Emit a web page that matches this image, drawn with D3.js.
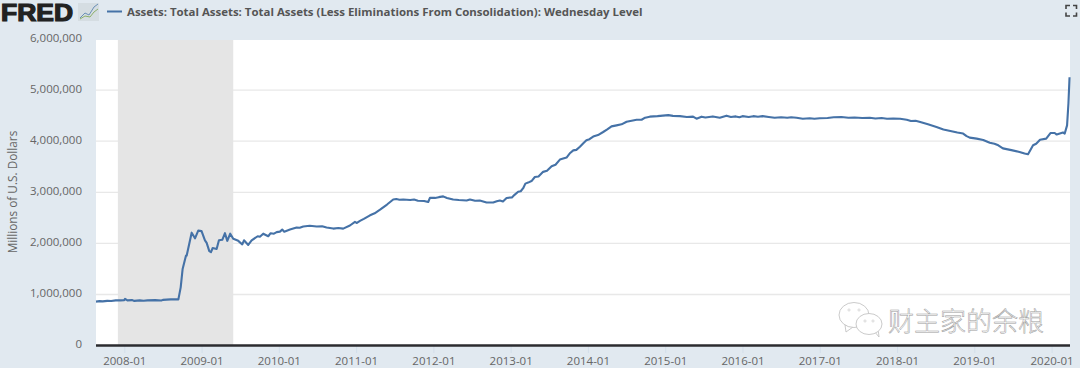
<!DOCTYPE html>
<html><head><meta charset="utf-8">
<script src="https://cdnjs.cloudflare.com/ajax/libs/d3/7.8.5/d3.min.js"></script>
<style>html,body{margin:0;padding:0;background:#e1e9f0}svg{display:block}text{font-family:"Open Sans",sans-serif}</style>
</head><body><svg id="c" width="1080" height="368"></svg>
<script>
const seriesTitle = "Assets: Total Assets: Total Assets (Less Eliminations From Consolidation): Wednesday Level";
const yAxisTitle = "Millions of U.S. Dollars";
const watermarkText = "财主家的余粮";
const yTicks = [0,1000000,2000000,3000000,4000000,5000000,6000000];
const xTicks = [2008,2009,2010,2011,2012,2013,2014,2015,2016,2017,2018,2019,2020];
const recession = [2007.917,2009.41];
const years = [
2007.634,2007.68,2007.72,2007.78,2007.83,2007.89,2007.95,2008,2008.01,2008.04,2008.1,2008.13,2008.2,2008.25,2008.3,2008.4,2008.48,2008.5,2008.6,2008.66,2008.7,2008.73,2008.755,2008.798,2008.807,2008.872,2008.915,2008.957,
2009,2009.044,2009.066,2009.1,2009.122,2009.144,2009.195,2009.225,2009.268,2009.303,2009.333,2009.371,2009.41,2009.475,2009.527,2009.549,2009.604,2009.648,2009.726,2009.755,2009.798,2009.863,2009.894,2009.937,2009.972,
2010.014,2010.044,2010.07,2010.144,2010.23,2010.27,2010.316,2010.4,2010.49,2010.56,2010.618,2010.704,2010.77,2010.833,2010.92,2010.985,
2011.01,2011.05,2011.1,2011.18,2011.24,2011.31,2011.4,2011.48,2011.52,2011.56,2011.61,2011.7,2011.75,2011.8,2011.88,2011.933,2011.955,
2012.02,2012.07,2012.127,2012.175,2012.256,2012.33,2012.43,2012.473,2012.54,2012.6,2012.688,2012.774,2012.82,2012.86,2012.9,2012.947,
2013.016,2013.05,2013.097,2013.13,2013.162,2013.19,2013.226,2013.27,2013.313,2013.36,2013.42,2013.47,2013.53,2013.58,2013.637,2013.723,2013.77,2013.81,2013.85,2013.896,2013.94,2013.98,
2014.02,2014.068,2014.13,2014.197,2014.25,2014.305,2014.37,2014.435,2014.5,2014.565,2014.63,2014.694,2014.74,2014.8,2014.9,
2015.04,2015.1,2015.19,2015.28,2015.36,2015.405,2015.47,2015.52,2015.616,2015.706,2015.793,2015.85,2015.913,2015.96,
2016,2016.08,2016.14,2016.2,2016.26,2016.34,2016.416,2016.5,2016.58,2016.63,2016.7,2016.78,2016.87,2016.93,
2017,2017.1,2017.18,2017.28,2017.37,2017.45,2017.55,2017.647,2017.72,2017.8,2017.87,2017.95,
2018.04,2018.125,2018.18,2018.24,2018.3,2018.4,2018.51,2018.6,2018.69,2018.78,2018.855,2018.9,2018.94,
2019.03,2019.115,2019.2,2019.26,2019.31,2019.37,2019.48,2019.585,2019.65,2019.695,2019.76,2019.8,2019.85,2019.93,2019.985,
2020.04,2020.066,2020.147,2020.17,2020.2,2020.218,2020.232];
const assets = [
860,870,865,875,872,885,885,890,915,885,890,875,885,878,885,890,882,895,905,905,905,1140,1500,1760,1760,2210,2100,2250,2240,
2060,2010,1850,1830,1910,1890,2060,2070,2200,2050,2190,2090,2050,1980,2060,1970,2060,2140,2130,2190,2140,2200,2190,2220,
2230,2270,2230,2270,2310,2305,2330,2345,2330,2335,2310,2290,2300,2290,2350,2420,
2400,2440,2480,2550,2590,2660,2760,2860,2870,2855,2860,2850,2860,2835,2830,2810,2890,
2890,2905,2920,2890,2860,2850,2840,2860,2835,2840,2800,2800,2825,2840,2820,2890,
2900,2950,3010,3020,3080,3170,3190,3220,3300,3310,3400,3420,3510,3540,3640,3680,3770,3820,3830,3890,3960,4020,
4040,4090,4120,4180,4230,4290,4310,4330,4380,4400,4420,4420,4460,4480,4490,
4510,4495,4490,4475,4480,4440,4480,4465,4485,4460,4500,4475,4485,4470,
4490,4475,4490,4480,4490,4475,4460,4470,4460,4470,4460,4440,4450,4440,
4450,4455,4470,4475,4460,4465,4455,4460,4445,4455,4440,4445,
4440,4420,4395,4400,4375,4330,4280,4230,4200,4170,4150,4100,4070,
4050,4025,3970,3950,3920,3860,3825,3790,3760,3745,3920,3950,4030,4050,4160,
4160,4130,4170,4150,4310,4745,5250];

const svg = d3.select("#c");
const x = d3.scaleLinear().domain([2007.634,2020.238]).range([96,1070]);
const y = d3.scaleLinear().domain([0,6000000]).range([345.6,39]);

svg.append("rect").attr("x",96).attr("y",40).attr("width",974).attr("height",305).attr("fill","#fff");

const yAxis = d3.axisLeft(y).tickValues(yTicks).tickFormat(d3.format(",")).tickSize(0).tickPadding(14);
const gy = svg.append("g").attr("transform","translate(96,0)").call(yAxis);
gy.select(".domain").remove();
gy.selectAll("text").attr("fill","#666").style("font-size","11.5px").attr("dy","0.2em");
svg.append("g").selectAll("line").data(yTicks.filter(d=>d>0&&d<6000000)).join("line")
  .attr("x1",96).attr("x2",1070).attr("y1",d=>y(d)).attr("y2",d=>y(d)).attr("stroke","#e8e8e8").attr("stroke-width",1.3);
svg.append("rect").attr("x",x(recession[0])).attr("y",40).attr("width",x(recession[1])-x(recession[0])).attr("height",305).attr("fill","#e5e5e5");

const xAxis = d3.axisBottom(x).tickValues(xTicks).tickFormat(d=>d+"-01").tickSize(8).tickPadding(4);
const gx = svg.append("g").attr("transform","translate(0,345)").call(xAxis);
gx.select(".domain").remove();
gx.selectAll("line").attr("stroke","#d3dfea");
gx.selectAll("text").attr("fill","#666").style("font-size","11.5px");
svg.append("line").attr("x1",96).attr("x2",1070).attr("y1",345.5).attr("y2",345.5).attr("stroke","#2b2b2f").attr("stroke-width",2.4);

svg.append("text").attr("transform","translate(17,192) rotate(-90)").attr("text-anchor","middle").attr("fill","#666").style("font-size","11.8px").text(yAxisTitle);

const line = d3.line().x((d,i)=>x(years[i])).y(d=>y(d*1000)).curve(d3.curveLinear);
svg.append("path").attr("d",line(assets)).attr("fill","none").attr("stroke","#4572a7").attr("stroke-width",2.1).attr("stroke-linejoin","round");

// header
svg.append("text").attr("x",1).attr("y",20.5).attr("fill","#222").style("font-family","'Liberation Sans',sans-serif").style("font-weight","700").style("font-size","23px").attr("stroke","#222").attr("stroke-width",1.2).attr("textLength",72).attr("lengthAdjust","spacingAndGlyphs").text("FRED");
svg.append("rect").attr("x",78).attr("y",3).attr("width",21).attr("height",18).attr("fill","#d5dde2");
const iconA=[[80,18],[85,13],[89,15],[94,7],[98,4]], iconB=[[80,19],[85,16],[90,17],[94,12],[98,9]];
svg.append("path").attr("d",d3.line()(iconA)).attr("fill","none").attr("stroke","#6a8fb5").attr("stroke-width",1);
svg.append("path").attr("d",d3.line()(iconB)).attr("fill","none").attr("stroke","#8db06a").attr("stroke-width",1);
svg.append("line").attr("x1",107).attr("x2",122).attr("y1",11.5).attr("y2",11.5).attr("stroke","#4572a7").attr("stroke-width",2);
svg.append("text").attr("x",127).attr("y",15.5).attr("fill","#555").style("font-weight","700").style("font-size","11.45px").text(seriesTitle);

// expand icon
svg.append("path").attr("d","M1066 9V5.500H1070M1073 5.500H1076.500V9M1076.500 12.500V16H1073M1070 16H1066V12.500").attr("fill","none").attr("stroke","#444").attr("stroke-width",1.6);

// watermark
const wm = svg.append("g").attr("fill","#fff").attr("stroke","#c4c4c4").attr("stroke-width",0.9);
wm.append("path").attr("d","M845 325L846 332L853 327Z");
wm.append("ellipse").attr("cx",854).attr("cy",315).attr("rx",15).attr("ry",12.5);
wm.append("path").attr("d","M874 331L879 337L878 328Z");
wm.append("ellipse").attr("cx",869).attr("cy",324).attr("rx",13).attr("ry",10.5);
const eyes=[[849,310],[859,310],[865,321],[873,321]];
svg.append("g").selectAll("circle").data(eyes).join("circle").attr("cx",d=>d[0]).attr("cy",d=>d[1]).attr("r",1.1).attr("fill","#fff").attr("stroke","#bbb").attr("stroke-width",0.5);
svg.append("text").attr("x",888).attr("y",331).attr("fill","#fff").attr("stroke","#999").attr("stroke-width",0.5).style("font-family","'Noto Sans CJK SC'").style("font-size","26px").style("font-weight","300").text(watermarkText);
</script></body></html>
